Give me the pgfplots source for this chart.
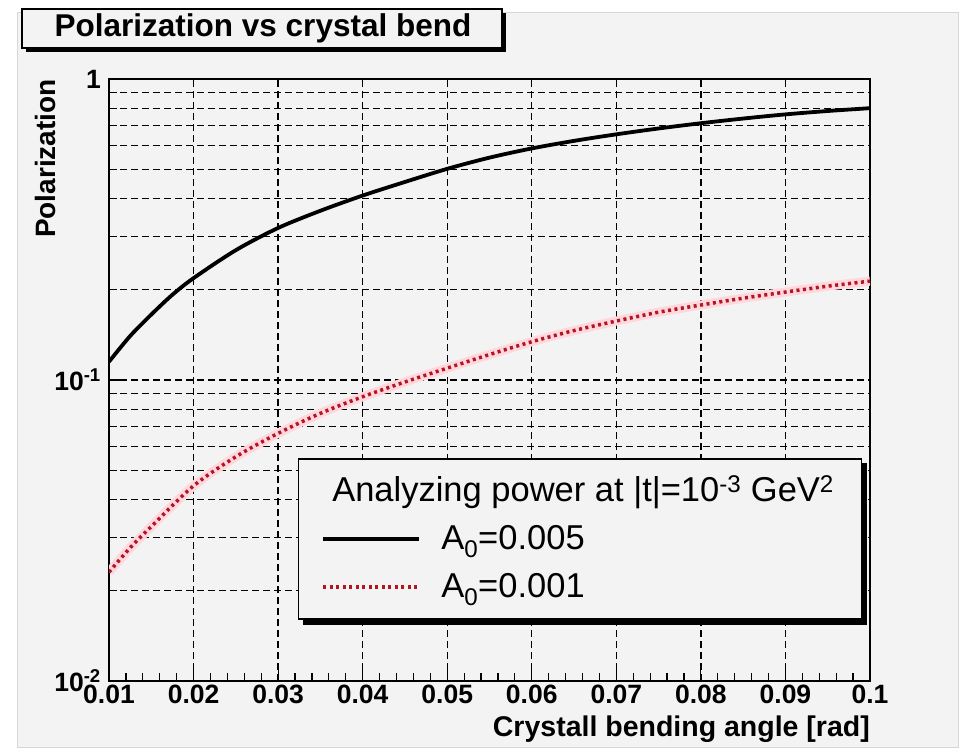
\documentclass[border=0pt]{standalone}
\usepackage{pgfplots}
\pgfplotsset{compat=1.18}
\usepackage{fontspec}
\setmainfont{Liberation Sans}
\definecolor{bgc}{RGB}{243,243,243}
\definecolor{brd}{RGB}{215,215,215}
\definecolor{dred}{RGB}{180,20,35}
\definecolor{halo}{RGB}{255,215,220}
\begin{document}
\begin{tikzpicture}
\useasboundingbox (0,0) rectangle (961bp,753bp);
\fill[white] (0,0) rectangle (961bp,753bp);
\filldraw[fill=bgc, draw=brd, line width=1bp] (17bp,5bp) rectangle (958bp,740bp);
% title box
\fill[black] (26bp,701bp) rectangle (506bp,740bp);
\filldraw[fill=bgc, draw=black, line width=1.5bp] (22bp,705bp) rectangle (502bp,744bp);
\node[anchor=base, inner sep=0pt, font=\bfseries\fontsize{31.5bp}{36bp}\selectfont] at (263bp,716bp) {Polarization vs crystal bend};
\begin{axis}[
  at={(109bp,72bp)}, anchor=south west,
  scale only axis, width=761bp, height=602bp,
  xmin=0.01, xmax=0.1,
  ymode=log, ymin=0.01, ymax=1,
  axis background/.style={fill=bgc},
  axis line style={black, line width=1.5bp},
  xtick={0.01,0.02,0.03,0.04,0.05,0.06,0.07,0.08,0.09,0.1},
  xticklabels={0.01,0.02,0.03,0.04,0.05,0.06,0.07,0.08,0.09,0.1},
  minor x tick num=4,
  ytick={0.01,0.1,1},
  yticklabels={10\textsuperscript{-2},10\textsuperscript{-1},1},
  minor ytick={0.02,0.03,0.04,0.05,0.06,0.07,0.08,0.09,0.2,0.3,0.4,0.5,0.6,0.7,0.8,0.9},
  tick pos=left, tick align=inside,
  major tick length=16bp, minor tick length=8bp,
  every tick/.style={black, line width=1.2bp},
  xmajorgrids, ymajorgrids, yminorgrids,
  major grid style={black, line width=1.3bp, dash pattern=on 7bp off 4bp},
  minor grid style={black, line width=1.3bp, dash pattern=on 7bp off 4bp},
  xticklabel style={font=\bfseries\fontsize{26.5bp}{30bp}\selectfont, inner sep=0pt, yshift=-4bp},
  yticklabel style={font=\bfseries\fontsize{26.5bp}{30bp}\selectfont, inner sep=0pt, xshift=-8bp},
  xlabel={Crystall bending angle [rad]},
  xlabel style={font=\bfseries\fontsize{28.5bp}{32bp}\selectfont, inner sep=0pt, at={(axis description cs:1,-0.093)}, anchor=base east},
  ylabel={Polarization},
  ylabel style={font=\bfseries\fontsize{28bp}{32bp}\selectfont, inner sep=0pt, rotate=0, at={(axis description cs:-0.083,1)}, anchor=east},
  legend style={at={(0.248,0.370)}, anchor=north west, name=leg,
    draw=black, line width=1.5bp, fill=bgc,
    font=\fontsize{34.5bp}{40bp}\selectfont,
    inner xsep=23bp, inner ysep=8bp, column sep=20bp, row sep=0bp,
    nodes={inner sep=0pt, text height=34bp, text depth=14bp}},
  legend cell align=left,
  legend image code/.code={\draw[#1] (0bp,0bp) -- (96bp,0bp);},
]
\addlegendimage{empty legend}
\addlegendentry{\makebox[397bp][l]{\hspace*{-109bp}Analyzing power at |t|=10\textsuperscript{-3} GeV\textsuperscript{2}}}
\addplot[halo, line width=9bp, smooth, forget plot] coordinates {
(0.010,0.0230) (0.0125,0.0277) (0.015,0.0326) (0.020,0.0445) (0.025,0.0556)
(0.030,0.0665) (0.035,0.0775) (0.040,0.0880) (0.045,0.0985) (0.050,0.1095)
(0.055,0.1215) (0.060,0.1340) (0.065,0.1460) (0.070,0.1570) (0.075,0.1680)
(0.080,0.1775) (0.085,0.1870) (0.090,0.1960) (0.095,0.2050) (0.100,0.2130)};
\addplot[black, line width=3.8bp, smooth] coordinates {
(0.010,0.115) (0.0125,0.140) (0.015,0.165) (0.0175,0.192) (0.020,0.218)
(0.025,0.270) (0.030,0.320) (0.035,0.365) (0.040,0.410) (0.045,0.455)
(0.050,0.503) (0.055,0.548) (0.060,0.588) (0.065,0.623) (0.070,0.655)
(0.075,0.685) (0.080,0.713) (0.085,0.739) (0.090,0.763) (0.095,0.783)
(0.100,0.800)};
\addlegendentry{A\textsubscript{0}=0.005}
\addplot[dred, line width=3.5bp, dash pattern=on 3bp off 3.5bp, smooth] coordinates {
(0.010,0.0230) (0.0125,0.0277) (0.015,0.0326) (0.020,0.0445) (0.025,0.0556)
(0.030,0.0665) (0.035,0.0775) (0.040,0.0880) (0.045,0.0985) (0.050,0.1095)
(0.055,0.1215) (0.060,0.1340) (0.065,0.1460) (0.070,0.1570) (0.075,0.1680)
(0.080,0.1775) (0.085,0.1870) (0.090,0.1960) (0.095,0.2050) (0.100,0.2130)};
\addlegendentry{A\textsubscript{0}=0.001}
\end{axis}
\fill[black] ([yshift=-5bp]leg.north east) rectangle ([xshift=5bp,yshift=-5bp]leg.south east);
\fill[black] ([xshift=5bp]leg.south west) rectangle ([xshift=5bp,yshift=-5bp]leg.south east);
\end{tikzpicture}
\end{document}
